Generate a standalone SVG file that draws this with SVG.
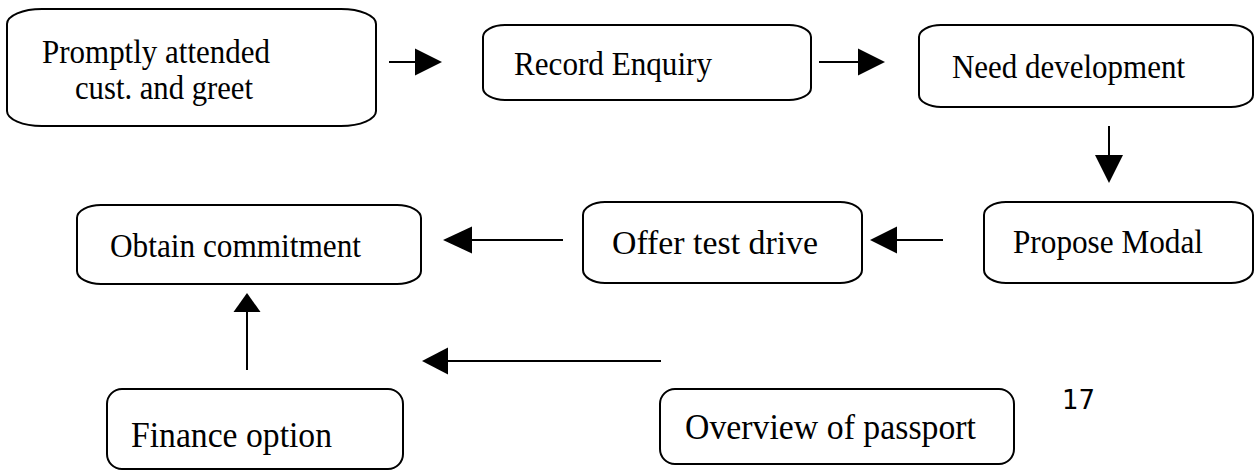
<svg xmlns="http://www.w3.org/2000/svg" width="1259" height="471" viewBox="0 0 1259 471">
<style>
.box{fill:#fff;stroke:#000;stroke-width:2}
.t{font-family:"Liberation Serif","Times New Roman",serif;font-size:34px;fill:#000}
.tb{font-family:"Liberation Serif","Times New Roman",serif;font-size:36px;fill:#000}
.ln{stroke:#000;stroke-width:2;fill:none}
.hd{fill:#000;stroke:none}
.pg{font-family:"DejaVu Sans","Open Sans",sans-serif;font-size:26px;fill:#000}
</style>
<rect width="1259" height="471" fill="#fff"/>
<g id="connectors">
<line class="ln" x1="389" y1="62" x2="416" y2="62"/>
<polygon class="hd" points="415,48.5 442,62 415,75.5"/>
<line class="ln" x1="819" y1="62" x2="859" y2="62"/>
<polygon class="hd" points="858,48.5 885,62 858,75.5"/>
<line class="ln" x1="1109" y1="126" x2="1109" y2="156"/>
<polygon class="hd" points="1095,155 1123,155 1109,183"/>
<line class="ln" x1="943" y1="240" x2="896" y2="240"/>
<polygon class="hd" points="897,226.5 870,240 897,253.5"/>
<line class="ln" x1="563" y1="240" x2="471" y2="240"/>
<polygon class="hd" points="472,226.5 443,240 472,253.5"/>
<line class="ln" x1="661" y1="361" x2="447" y2="361"/>
<polygon class="hd" points="448,347.5 422,361 448,374.5"/>
<line class="ln" x1="247" y1="370" x2="247" y2="311"/>
<polygon class="hd" points="233.5,312 260.5,312 247,293"/>
</g>
<g id="node-greet">
<rect class="box" x="7" y="9" width="369" height="117" rx="35" ry="15"/>
<text class="t" x="42" y="63" textLength="228" lengthAdjust="spacingAndGlyphs">Promptly attended</text>
<text class="t" x="75" y="99" textLength="178" lengthAdjust="spacingAndGlyphs">cust. and greet</text>
</g>
<g id="node-record">
<rect class="box" x="483" y="25" width="328" height="75" rx="22" ry="12"/>
<text class="t" x="514" y="75" textLength="198" lengthAdjust="spacingAndGlyphs">Record Enquiry</text>
</g>
<g id="node-need">
<rect class="box" x="919" y="25" width="334" height="82" rx="22" ry="12"/>
<text class="t" x="952" y="78" textLength="233" lengthAdjust="spacingAndGlyphs">Need development</text>
</g>
<g id="node-propose">
<rect class="box" x="984" y="202" width="269" height="81" rx="22" ry="13"/>
<text class="t" x="1013" y="253" textLength="190" lengthAdjust="spacingAndGlyphs">Propose Modal</text>
</g>
<g id="node-offer">
<rect class="box" x="583" y="202" width="279" height="81" rx="22" ry="13"/>
<text class="t" x="612" y="254" textLength="206" lengthAdjust="spacingAndGlyphs">Offer test drive</text>
</g>
<g id="node-obtain">
<rect class="box" x="77" y="205" width="344" height="79" rx="24" ry="13"/>
<text class="t" x="110" y="257" textLength="251" lengthAdjust="spacingAndGlyphs">Obtain commitment</text>
</g>
<g id="node-finance">
<rect class="box" x="107" y="389" width="296" height="80" rx="15" ry="15"/>
<text class="tb" x="131" y="447" textLength="201" lengthAdjust="spacingAndGlyphs">Finance option</text>
</g>
<g id="node-passport">
<rect class="box" x="660" y="389" width="354" height="75" rx="15" ry="15"/>
<text class="tb" x="685" y="439" textLength="291" lengthAdjust="spacingAndGlyphs">Overview of passport</text>
</g>
<text class="pg" x="1062" y="409">17</text>
</svg>
